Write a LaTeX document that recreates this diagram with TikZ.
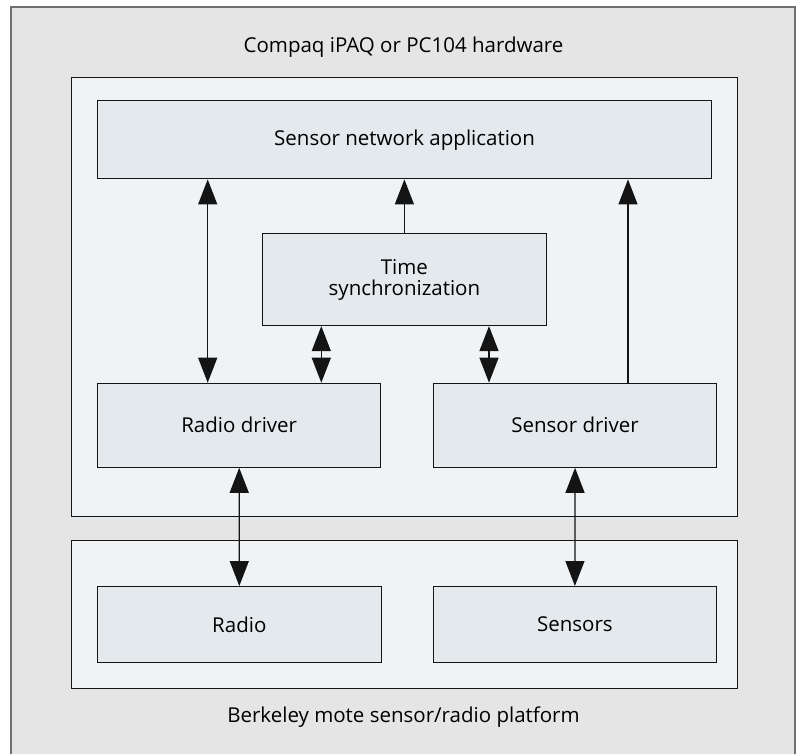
\documentclass[tikz,border=0pt]{standalone}
\usepackage{fontspec}
\setmainfont{Open Sans}
\usetikzlibrary{arrows.meta}
\definecolor{framebg}{RGB}{229,229,229}
\definecolor{framedraw}{RGB}{112,112,112}
\definecolor{groupbg}{RGB}{239,243,246}
\definecolor{boxbg}{RGB}{228,233,237}
\definecolor{ink}{RGB}{20,20,20}
\tikzset{
  group/.style={draw=ink, line width=1.2pt, fill=groupbg, anchor=north west, inner sep=0pt},
  block/.style={draw=ink, line width=1.1pt, fill=boxbg, anchor=north west, inner sep=0pt,
    align=center, text=black, font=\fontsize{20.5}{24}\selectfont},
  caption/.style={text=black, font=\fontsize{20.5}{24}\selectfont, anchor=base},
  link/.style={draw=ink, line width=1.3pt},
  tip/.style={-{Triangle[length=25pt,width=19pt]}},
  both/.style={{Triangle[length=25pt,width=19pt]}-{Triangle[length=25pt,width=19pt]}}
}
\begin{document}
\begin{tikzpicture}[x=1pt,y=-1pt]
\useasboundingbox (0,0) rectangle (797,753);
% outer frame
\draw[fill=framebg, draw=framedraw, line width=1.8pt] (11,7.3) rectangle (794.7,770);
\node[caption] (title) at (403.5,52.3) {Compaq iPAQ or PC104 hardware};
\node[caption] (foot) at (403.5,722.7) {Berkeley mote sensor/radio platform};

% host hardware group
\node[group, minimum width=665.7pt, minimum height=438.7pt] (hw) at (71,77) {};
\node[block, minimum width=613.4pt, minimum height=78.3pt] (app) at (97.3,100) {Sensor network application};
\node[block, minimum width=283.7pt, minimum height=91.7pt] (sync) at (262,233.3) {Time\\[-3pt]synchronization};
\node[block, minimum width=283.3pt, minimum height=84pt] (rdrv) at (97,382.7) {Radio driver};
\node[block, minimum width=283.6pt, minimum height=84pt] (sdrv) at (432.7,382.7) {Sensor driver};

% mote platform group
\node[group, minimum width=665.7pt, minimum height=148pt] (mote) at (71,539.5) {};
\node[block, minimum width=283.5pt, minimum height=76pt] (radio) at (97,586) {Radio};
\node[block, minimum width=283.3pt, minimum height=76pt] (sens) at (432.7,586) {Sensors};

% connector columns
\coordinate (cA) at (207.7,0);
\coordinate (cB) at (321.3,0);
\coordinate (cC) at (489,0);
\coordinate (cD) at (628,0);

\draw[link, both] (cA |- app.south) -- (cA |- rdrv.north);
\draw[link, tip] (sync.north) -- (app.south -| sync.north);
\draw[link, both] (cB |- sync.south) -- (cB |- rdrv.north);
\draw[link, both] (cC |- sync.south) -- (cC |- sdrv.north);
\draw[link, tip] (cD |- sdrv.north) -- (cD |- app.south);
\draw[link, both] (rdrv.south) -- (radio.north);
\draw[link, both] (sdrv.south) -- (sens.north);
\end{tikzpicture}
\end{document}
